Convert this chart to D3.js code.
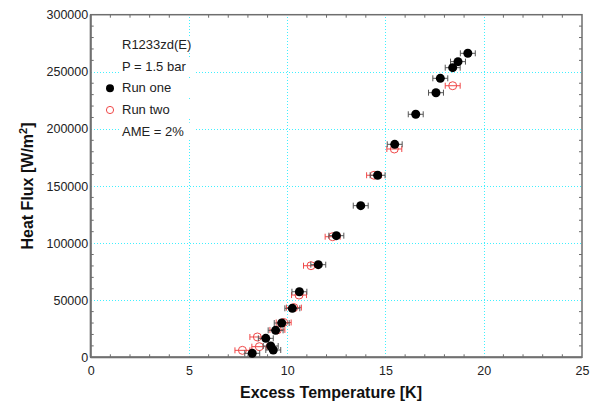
<!DOCTYPE html>
<html><head><meta charset="utf-8">
<script src="https://cdn.jsdelivr.net/npm/d3@7"></script>
<style>
html,body{margin:0;padding:0;background:#fff;}
svg{display:block;font-family:Arial,"Liberation Sans",sans-serif;}
</style></head>
<body><svg id="c" width="595" height="407"></svg>
<script>
// ---- data ----
const xTicks = [0, 5, 10, 15, 20, 25];
const yTicks = [0, 50000, 100000, 150000, 200000, 250000, 300000];
const runOneT = [8.22, 9.29, 9.16, 8.91, 9.41, 9.72, 10.26, 10.62, 11.58, 12.50, 13.74, 14.60, 15.47, 16.54, 17.57, 17.79, 18.42, 18.69, 19.19];
const runOneQ = [3500, 6400, 9900, 16600, 23600, 30000, 42900, 57400, 81100, 106500, 132800, 159400, 186500, 212800, 231700, 244300, 253600, 258900, 266200];
const runTwoT = [7.72, 8.58, 8.48, 9.50, 9.82, 10.34, 10.60, 11.21, 12.31, 14.42, 15.45, 18.42];
const runTwoQ = [6100, 9300, 17800, 24000, 30500, 43500, 54500, 80200, 105600, 159400, 182400, 237800];
const tempError = 0.38;
const legendLines = ["R1233zd(E)", "P = 1.5 bar", "Run one", "Run two", "AME = 2%"];

const svg = d3.select("#c");
const x = d3.scaleLinear().domain([0, 25]).range([90.7, 582]);
const y = d3.scaleLinear().domain([0, 300000]).range([357.3, 14.7]);
const L = x.range()[0], R = x.range()[1], B = y.range()[0], T = y.range()[1];
const px = v => Math.round(v) + 0.5;

// grid
const grid = svg.append("g").attr("stroke", "#40f0ff").attr("stroke-width", 1)
  .attr("stroke-dasharray", "1.5,1.5").attr("shape-rendering", "crispEdges");
grid.selectAll("line.gx").data(xTicks.slice(1, -1)).join("line")
  .attr("x1", d => px(x(d))).attr("x2", d => px(x(d))).attr("y1", B).attr("y2", T);
grid.selectAll("line.gy").data(yTicks.slice(1, -1)).join("line")
  .attr("y1", d => px(y(d))).attr("y2", d => px(y(d))).attr("x1", L).attr("x2", R);

// minor ticks (inward)
const minorX = d3.range(0, 26, 1).filter(v => v % 5 !== 0);
const minorY = d3.range(0, 300001, 10000).filter(v => v % 50000 !== 0);
const tk = svg.append("g").attr("stroke", "#6a6a6a").attr("stroke-width", 1);
minorX.forEach(v => {
  tk.append("line").attr("x1", x(v)).attr("x2", x(v)).attr("y1", B).attr("y2", B - 3);
  tk.append("line").attr("x1", x(v)).attr("x2", x(v)).attr("y1", T).attr("y2", T + 3);
});
minorY.forEach(v => {
  tk.append("line").attr("y1", y(v)).attr("y2", y(v)).attr("x1", L).attr("x2", L + 3);
  tk.append("line").attr("y1", y(v)).attr("y2", y(v)).attr("x1", R).attr("x2", R - 3);
});

// frame
svg.append("rect").attr("x", L).attr("y", T).attr("width", R - L).attr("height", B - T)
  .attr("fill", "none").attr("stroke", "#6e6e6e").attr("stroke-width", 1.5);
svg.append("line").attr("x1", L).attr("x2", R).attr("y1", B).attr("y2", B).attr("stroke", "#707070").attr("stroke-width", 2);
svg.append("line").attr("x1", L).attr("x2", L).attr("y1", B).attr("y2", T).attr("stroke", "#707070").attr("stroke-width", 2);

// axes labels
const ax = svg.append("g").attr("transform", `translate(0,${B})`)
  .call(d3.axisBottom(x).tickValues(xTicks).tickSizeInner(0).tickSizeOuter(0).tickPadding(9).tickFormat(d3.format("d")));
const ay = svg.append("g").attr("transform", `translate(${L},0)`)
  .call(d3.axisLeft(y).tickValues(yTicks).tickSizeInner(0).tickSizeOuter(0).tickPadding(2.5).tickFormat(d3.format("d")));
[ax, ay].forEach(a => {
  a.select(".domain").remove();
  a.selectAll("line").remove();
  a.selectAll("text").attr("font-size", "12.5px").attr("fill", "#222").attr("font-family", "Arial, 'Liberation Sans', sans-serif");
});

// titles
svg.append("text").attr("x", 331).attr("y", 398).attr("text-anchor", "middle")
  .attr("font-size", "16px").attr("font-weight", "bold").attr("fill", "#111").text("Excess Temperature [K]");
const yt = svg.append("text").attr("transform", `translate(32.5,${(B + T) / 2}) rotate(-90)`)
  .attr("text-anchor", "middle").attr("font-size", "16px").attr("font-weight", "bold").attr("fill", "#111");
yt.append("tspan").text("Heat Flux [W/m");
yt.append("tspan").attr("dy", "-6").attr("font-size", "11px").text("2");
yt.append("tspan").attr("dy", "6").text("]");

// legend (text with white background)
const lg = svg.append("g");
const baselines = [49, 71, 92.3, 114, 135.7];
legendLines.forEach((t, i) => {
  lg.append("rect").attr("x", 119).attr("y", baselines[i] - 13).attr("width", 75).attr("height", 17).attr("fill", "#fff");
  lg.append("text").attr("x", 122).attr("y", baselines[i]).attr("font-size", "13px").attr("fill", "#222").text(t);
});
lg.append("circle").attr("cx", 110).attr("cy", 88.3).attr("r", 4).attr("fill", "#000");
lg.append("circle").attr("cx", 110).attr("cy", 110).attr("r", 3.6).attr("fill", "none").attr("stroke", "#f04848").attr("stroke-width", 1);

// series
const runOne = runOneT.map((t, i) => ({ t, q: runOneQ[i] }));
const runTwo = runTwoT.map((t, i) => ({ t, q: runTwoQ[i] }));

function errBars(data, color) {
  const g = svg.append("g").attr("stroke", color).attr("stroke-width", 1).attr("fill", "none");
  data.forEach(d => {
    const x0 = x(d.t - tempError), x1 = x(d.t + tempError), yy = y(d.q);
    g.append("line").attr("x1", x0).attr("x2", x1).attr("y1", yy).attr("y2", yy);
    g.append("line").attr("x1", x0).attr("x2", x0).attr("y1", yy - 3).attr("y2", yy + 3);
    g.append("line").attr("x1", x1).attr("x2", x1).attr("y1", yy - 3).attr("y2", yy + 3);
  });
}
errBars(runTwo, "#f04848");
svg.append("g").selectAll("circle").data(runTwo).join("circle")
  .attr("cx", d => x(d.t)).attr("cy", d => y(d.q)).attr("r", 4)
  .attr("fill", "none").attr("stroke", "#f04848").attr("stroke-width", 1);
errBars(runOne, "#555");
svg.append("g").selectAll("circle").data(runOne).join("circle")
  .attr("cx", d => x(d.t)).attr("cy", d => y(d.q)).attr("r", 4.5).attr("fill", "#000");
</script></body></html>
